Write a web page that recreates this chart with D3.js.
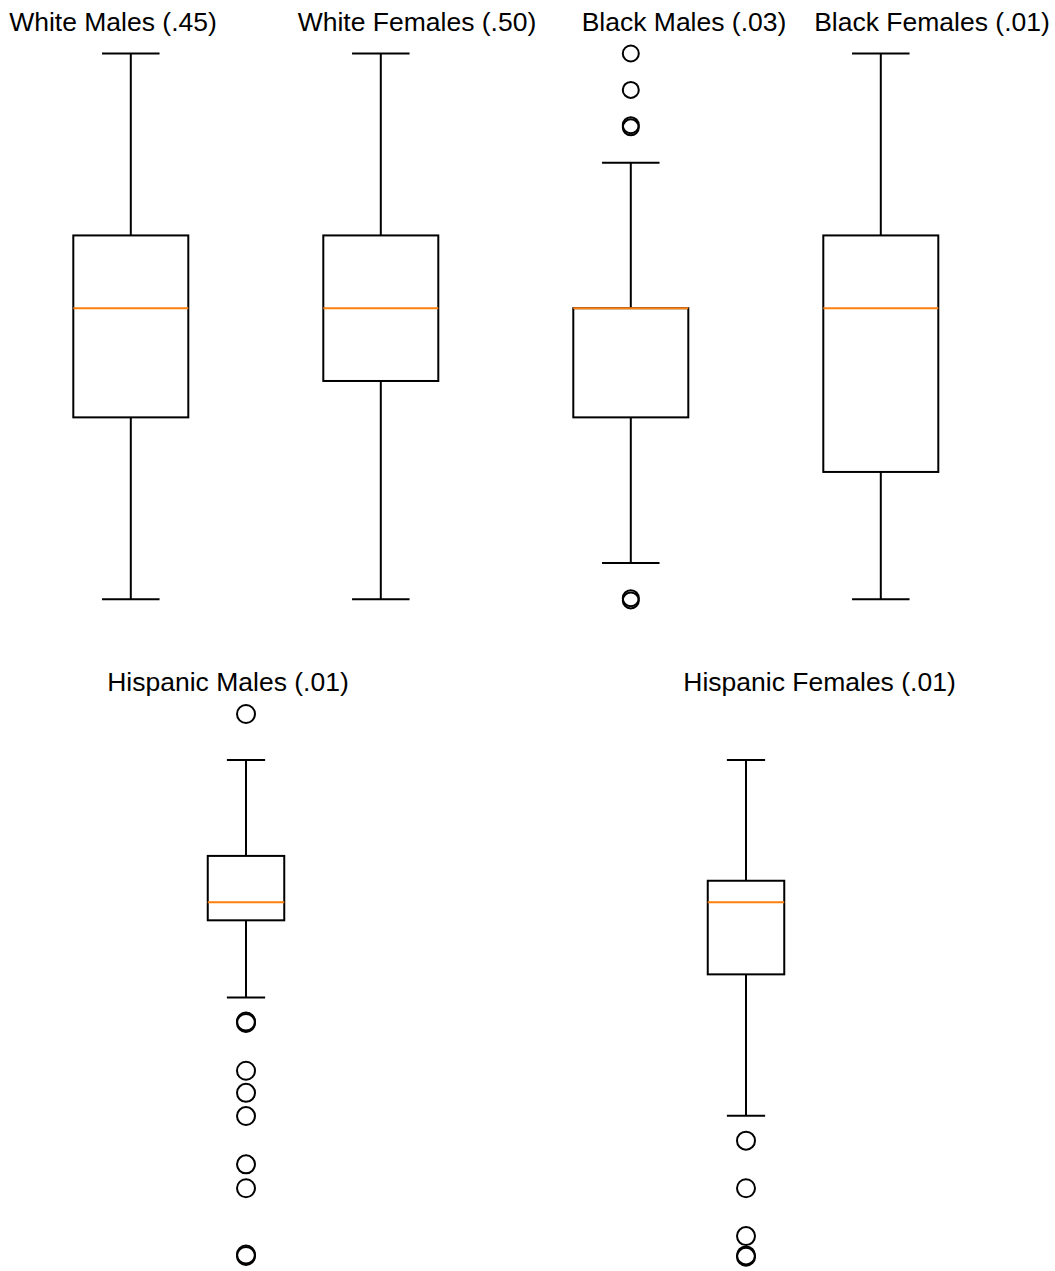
<!DOCTYPE html>
<html>
<head>
<meta charset="utf-8">
<script src="https://cdn.jsdelivr.net/npm/d3@7"></script>
<style>
  body { margin: 0; background: #fff; }
  svg { display: block; }
  .title { font-family: "Liberation Sans", Arial, sans-serif; font-size: 26.5px; fill: #000; }
</style>
</head>
<body>
<svg id="chart" width="1055" height="1271"></svg>
<script>
// top row: four groups
const topTitles = ['White Males (.45)', 'White Females (.50)', 'Black Males (.03)', 'Black Females (.01)'];
const topWhiskerHigh = [15, 15, 12, 15];
const topQ3 = [10, 10, 8, 10];
const topMedian = [8, 8, 8, 8];
const topQ1 = [5, 6, 5, 3.5];
const topWhiskerLow = [0, 0, 1, 0];
const topOutliers = [[], [], [15, 14, 13.03, 12.97, 0.03, -0.03], []];

// bottom row: two groups
const bottomTitles = ['Hispanic Males (.01)', 'Hispanic Females (.01)'];
const bottomWhiskerHigh = [22, 22];
const bottomQ3 = [17.83, 16.75];
const bottomMedian = [15.81, 15.81];
const bottomQ1 = [15.03, 12.68];
const bottomWhiskerLow = [11.67, 6.53];
const bottomOutliers = [
  [24, 10.63, 10.57, 8.49, 7.53, 6.52, 4.42, 3.38, 0.5, 0.44],
  [5.45, 3.38, 1.3, 0.46, 0.4]
];

const svg = d3.select('#chart');

function drawRow(opts) {
  const x = d3.scaleBand().domain(opts.titles).range(opts.xRange);
  const y = d3.scaleLinear().domain(opts.yDomain).range(opts.yRange);
  const boxW = x.bandwidth() * opts.boxFrac;
  const capW = boxW / 2;

  const rows = opts.titles.map((t, i) => ({
    title: t,
    cx: x(t) + x.bandwidth() / 2,
    hi: opts.hi[i], q3: opts.q3[i], med: opts.med[i], q1: opts.q1[i], lo: opts.lo[i],
    out: opts.out[i],
    tx: opts.titleX[i]
  }));

  const g = svg.append('g');
  const grp = g.selectAll('g.box').data(rows).join('g').attr('class', 'box');

  // whiskers
  grp.append('line')
    .attr('x1', d => d.cx).attr('x2', d => d.cx)
    .attr('y1', d => y(d.hi)).attr('y2', d => y(d.q3))
    .attr('stroke', '#000').attr('stroke-width', 2);
  grp.append('line')
    .attr('x1', d => d.cx).attr('x2', d => d.cx)
    .attr('y1', d => y(d.q1)).attr('y2', d => y(d.lo))
    .attr('stroke', '#000').attr('stroke-width', 2);

  // caps
  ['hi', 'lo'].forEach(k => {
    grp.append('line')
      .attr('x1', d => d.cx - capW / 2).attr('x2', d => d.cx + capW / 2)
      .attr('y1', d => y(d[k])).attr('y2', d => y(d[k]))
      .attr('stroke', '#000').attr('stroke-width', 2);
  });

  // box
  grp.append('rect')
    .attr('x', d => d.cx - boxW / 2)
    .attr('y', d => y(d.q3))
    .attr('width', boxW)
    .attr('height', d => y(d.q1) - y(d.q3))
    .attr('fill', 'none').attr('stroke', '#000').attr('stroke-width', 2);

  // median
  grp.append('line')
    .attr('x1', d => d.cx - boxW / 2).attr('x2', d => d.cx + boxW / 2)
    .attr('y1', d => y(d.med)).attr('y2', d => y(d.med))
    .attr('stroke', '#ff7f0e').attr('stroke-width', 2);

  // fliers
  grp.selectAll('circle')
    .data(d => d.out.map(v => ({ v, cx: d.cx })))
    .join('circle')
    .attr('cx', d => d.cx).attr('cy', d => y(d.v))
    .attr('r', opts.r)
    .attr('fill', 'none').attr('stroke', '#000').attr('stroke-width', 2);

  // titles
  grp.append('text')
    .attr('class', 'title')
    .attr('x', d => d.tx)
    .attr('y', opts.titleY)
    .attr('text-anchor', 'middle')
    .text(d => d.title);
}

drawRow({
  titles: topTitles, hi: topWhiskerHigh, q3: topQ3, med: topMedian, q1: topQ1, lo: topWhiskerLow, out: topOutliers,
  xRange: [5.8, 1005.8], boxFrac: 0.46,
  yDomain: [0, 15], yRange: [599.3, 53.5],
  r: 8, titleX: [113, 417, 684, 932], titleY: 31
});

drawRow({
  titles: bottomTitles, hi: bottomWhiskerHigh, q3: bottomQ3, med: bottomMedian, q1: bottomQ1, lo: bottomWhiskerLow, out: bottomOutliers,
  xRange: [-4, 996], boxFrac: 0.153,
  yDomain: [0, 24], yRange: [1266, 714],
  r: 9, titleX: [228, 819.5], titleY: 691
});
</script>
</body>
</html>
